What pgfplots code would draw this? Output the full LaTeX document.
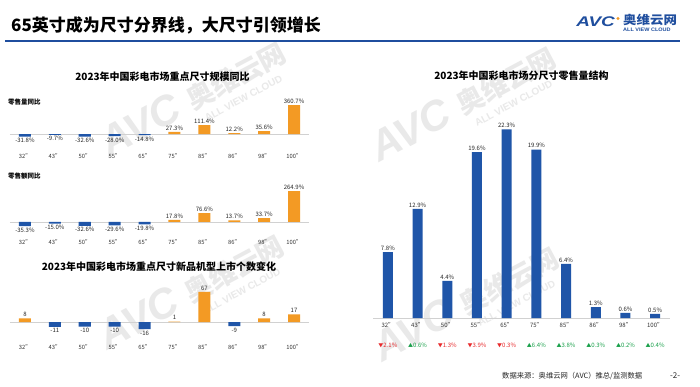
\documentclass[border=0pt]{standalone}
\usepackage{fontspec}
\usepackage{pgfplots}
\pgfplotsset{compat=1.18}
\setmainfont{Noto Sans CJK SC}
\newfontfamily\logofont{Liberation Sans}
\definecolor{avcblue}{HTML}{1F4E9E}
\definecolor{barblue}{HTML}{1F55A8}
\definecolor{barorange}{HTML}{F39A24}
\definecolor{upgreen}{HTML}{19A04A}
\definecolor{downred}{HTML}{E8292B}
\definecolor{wm}{HTML}{E9E9E9}

\pgfplotsset{
  barchart/.style={
    scale only axis, ybar, axis line style={draw=none},
    enlargelimits=false, clip=false,
    xmin=-0.5, xmax=9.5, xtick={0,...,9},
    xticklabels={32",43",50",55",65",75",85",86",98",100"},
    ytick={0}, yticklabels={}, ymajorgrids,
    grid style={black!18, line width=0.6pt},
    major tick length=0pt,
    /pgf/number format/assume math mode=true,
    nodes near coords align=vertical,
    every node near coord/.append style={font=\fontsize{6}{7}\selectfont, text=black!85, inner sep=1.5pt},
    xticklabel style={font=\fontsize{5.8}{7}\selectfont, text=black!80, inner sep=1.5pt},
  },
  pctlabel/.style={nodes near coords={\pgfmathprintnumber[fixed,fixed zerofill,precision=1]{\pgfplotspointmeta}\%}},
}

\newcommand{\watermark}[2]{%
  \begin{scope}[shift={(#1,#2)}, rotate=28]
  \node[text=wm, inner sep=0pt, rotate=28, font=\logofont\bfseries\itshape\fontsize{42}{42}\selectfont] at (0,0) {AVC};
  \node[text=wm, inner sep=0pt, rotate=28, font=\bfseries\fontsize{27}{27}\selectfont] at (108,-2) {奥维云网};
  \node[text=wm, inner sep=0pt, rotate=28, font=\logofont\bfseries\fontsize{10}{10}\selectfont] at (104,-25) {ALL VIEW CLOUD};
  \end{scope}}

\begin{document}
\begin{tikzpicture}[x=1pt,y=1pt]
\useasboundingbox (0,0) rectangle (700,-386);
\fill[white] (0,0) rectangle (700,-386);

% watermarks
\watermark{140}{-125}
\watermark{138}{-318}
\watermark{410}{-130}
\watermark{413}{-330}

% header
\node[anchor=west, inner sep=0pt, font=\fontsize{17}{18}\selectfont\bfseries] at (11,-25) {65英寸成为尺寸分界线，大尺寸引领增长};
\draw[avcblue, line width=1.6pt] (5,-40.7) -- (680,-40.7);
\node[anchor=west, inner sep=0pt, text=avcblue, xscale=1.35, font=\logofont\bfseries\itshape\fontsize{14}{14}\selectfont] at (576,-22) {AVC};
\fill[barorange] (618,-18.5) circle (1.7pt);
\node[anchor=west, inner sep=0pt, text=avcblue, xscale=1.12, font=\bfseries\fontsize{12}{12}\selectfont] at (623,-20) {奥维云网};
\node[anchor=west, inner sep=0pt, text=avcblue, xscale=1.1, font=\logofont\bfseries\fontsize{5}{5}\selectfont] at (623,-30) {ALL VIEW CLOUD};

% titles
\node[font=\bfseries\fontsize{10}{11}\selectfont, inner sep=0pt] at (162.5,-77) {2023年中国彩电市场重点尺寸规模同比};
\node[font=\bfseries\fontsize{10}{11}\selectfont, inner sep=0pt] at (159,-267) {2023年中国彩电市场重点尺寸新品机型上市个数变化};
\node[font=\bfseries\fontsize{10}{11}\selectfont, inner sep=0pt] at (521.5,-76) {2023年中国彩电市场分尺寸零售量结构};
\node[anchor=west, font=\bfseries\fontsize{6.5}{7}\selectfont, inner sep=0pt] at (8,-102) {零售量同比};
\node[anchor=west, font=\bfseries\fontsize{6.5}{7}\selectfont, inner sep=0pt] at (8,-176) {零售额同比};

% chart 1: retail volume YoY
\begin{axis}[barchart, pctlabel, at={(10pt,-152pt)}, anchor=south west,
  width=299pt, height=52pt, ymin=-225, ymax=425, bar width=12pt]
\addplot[fill=barblue, draw=none, bar shift=0pt] coordinates {(0,-31.8) (1,-9.7) (2,-32.6) (3,-28.0) (4,-14.8)};
\addplot[fill=barorange, draw=none, bar shift=0pt] coordinates {(5,27.3) (6,111.4) (7,12.2) (8,35.6) (9,360.7)};
\end{axis}

% chart 2: retail value YoY
\begin{axis}[barchart, pctlabel, at={(10pt,-238pt)}, anchor=south west,
  width=299pt, height=58pt, ymin=-137, ymax=359, bar width=12pt]
\addplot[fill=barblue, draw=none, bar shift=0pt] coordinates {(0,-35.3) (1,-15.0) (2,-32.6) (3,-29.6) (4,-19.8)};
\addplot[fill=barorange, draw=none, bar shift=0pt] coordinates {(5,17.8) (6,76.6) (7,13.7) (8,33.7) (9,264.9)};
\end{axis}

% chart 3: new models change
\begin{axis}[barchart, at={(10pt,-343pt)}, anchor=south west,
  width=299pt, height=61pt, ymin=-46.7, ymax=89, bar width=12pt,
  nodes near coords={\pgfmathprintnumber{\pgfplotspointmeta}}]
\addplot[fill=barblue, draw=none, bar shift=0pt] coordinates {(1,-11) (2,-10) (3,-10) (4,-16) (7,-9)};
\addplot[fill=barorange, draw=none, bar shift=0pt] coordinates {(0,8) (5,1) (6,67) (8,8) (9,17)};
\end{axis}

% right chart: retail volume structure
\begin{axis}[barchart, pctlabel, at={(373pt,-321pt)}, anchor=south west,
  width=297pt, height=201pt, ymin=-0.354, ymax=23.4, bar width=10pt,
  every node near coord/.append style={font=\fontsize{6}{7}\selectfont},
  xticklabel style={align=center, anchor=north, font=\fontsize{6}{7}\selectfont},
  xticklabels={
    {32"\\[12.5pt]\textcolor{downred}{{\fontsize{5}{6}\selectfont▼}2.1\%}},
    {43"\\[12.5pt]\textcolor{upgreen}{{\fontsize{5}{6}\selectfont▲}0.6\%}},
    {50"\\[12.5pt]\textcolor{downred}{{\fontsize{5}{6}\selectfont▼}1.3\%}},
    {55"\\[12.5pt]\textcolor{downred}{{\fontsize{5}{6}\selectfont▼}3.9\%}},
    {65"\\[12.5pt]\textcolor{downred}{{\fontsize{5}{6}\selectfont▼}0.3\%}},
    {75"\\[12.5pt]\textcolor{upgreen}{{\fontsize{5}{6}\selectfont▲}6.4\%}},
    {85"\\[12.5pt]\textcolor{upgreen}{{\fontsize{5}{6}\selectfont▲}3.8\%}},
    {86"\\[12.5pt]\textcolor{upgreen}{{\fontsize{5}{6}\selectfont▲}0.3\%}},
    {98"\\[12.5pt]\textcolor{upgreen}{{\fontsize{5}{6}\selectfont▲}0.2\%}},
    {100"\\[12.5pt]\textcolor{upgreen}{{\fontsize{5}{6}\selectfont▲}0.4\%}}}]
\addplot[fill=barblue, draw=none, bar shift=0pt] coordinates {(0,7.8) (1,12.9) (2,4.4) (3,19.6) (4,22.3) (5,19.9) (6,6.4) (7,1.3) (8,0.6) (9,0.5)};
\end{axis}

% footer
\node[anchor=west, inner sep=0pt, font=\fontsize{7.3}{8}\selectfont, text=black!85] at (502,-376) {数据来源：奥维云网（AVC）推总/监测数据};
\node[anchor=west, inner sep=0pt, font=\fontsize{8}{9}\selectfont, text=black!85] at (670,-376) {-2-};
\end{tikzpicture}
\end{document}
